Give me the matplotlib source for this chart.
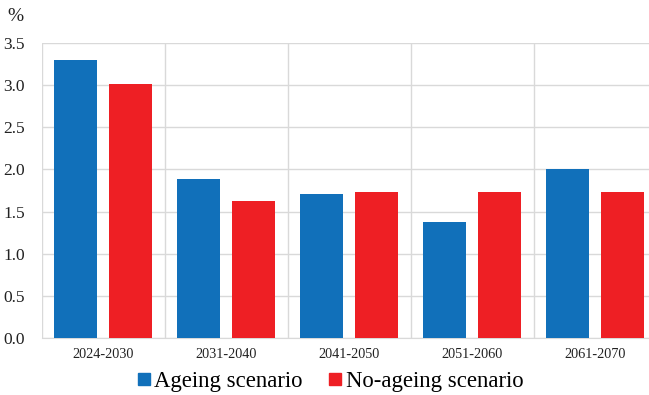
import matplotlib.pyplot as plt
from matplotlib.lines import Line2D
import numpy as np

periods = ["2024-2030", "2031-2040", "2041-2050", "2051-2060", "2061-2070"]
ageing = [3.3, 1.89, 1.71, 1.38, 2.0]
no_ageing = [3.01, 1.63, 1.73, 1.73, 1.73]

blue = "#1170ba"
red = "#ee1f24"
grid_col = "#d9d9d9"

plt.rcParams["font.family"] = ["Liberation Serif", "DejaVu Serif"]

fig = plt.figure(figsize=(6.49, 3.95), dpi=100)
ax = fig.add_axes([0.064, 0.1443, 0.9476, 0.7468])

x = np.arange(len(periods))
w = 0.35
ax.bar(x - 0.225, ageing, w, color=blue, zorder=3)
ax.bar(x + 0.225, no_ageing, w, color=red, zorder=3)

ax.set_xlim(-0.5, len(periods) - 0.5)
ax.set_ylim(0, 3.5)
yt = np.arange(0, 3.51, 0.5)
ax.set_yticks(yt)
ax.set_yticklabels([f"{v:.1f}" for v in yt], fontsize=12.5, color="#222222")
ax.set_xticks(x)
ax.set_xticklabels(periods, fontsize=10.3, color="#222222")
ax.tick_params(length=0)
ax.tick_params(axis="x", pad=7)
ax.tick_params(axis="y", pad=12)

# category separators and horizontal grid
ax.set_xticks(np.arange(-0.5, len(periods), 1), minor=True)
ax.grid(axis="y", color=grid_col, linewidth=1, zorder=0)
ax.grid(axis="x", which="minor", color=grid_col, linewidth=1, zorder=0)
ax.tick_params(which="minor", length=0)
for side in ["top", "right", "left"]:
    ax.spines[side].set_visible(False)
ax.spines["bottom"].set_color(grid_col)

fig.text(0.011, 0.948, "%", fontsize=14, color="#222222")

handles = [
    Line2D([], [], marker="s", linestyle="none", markersize=9, color=blue),
    Line2D([], [], marker="s", linestyle="none", markersize=9, color=red),
]
fig.legend(handles, ["Ageing scenario", "No-ageing scenario"], loc="center",
           bbox_to_anchor=(0.506, 0.033), ncol=2, frameon=False, fontsize=16.4,
           handletextpad=0.0, columnspacing=1.0, handlelength=0.9)

fig.savefig("out.png", dpi=100)
